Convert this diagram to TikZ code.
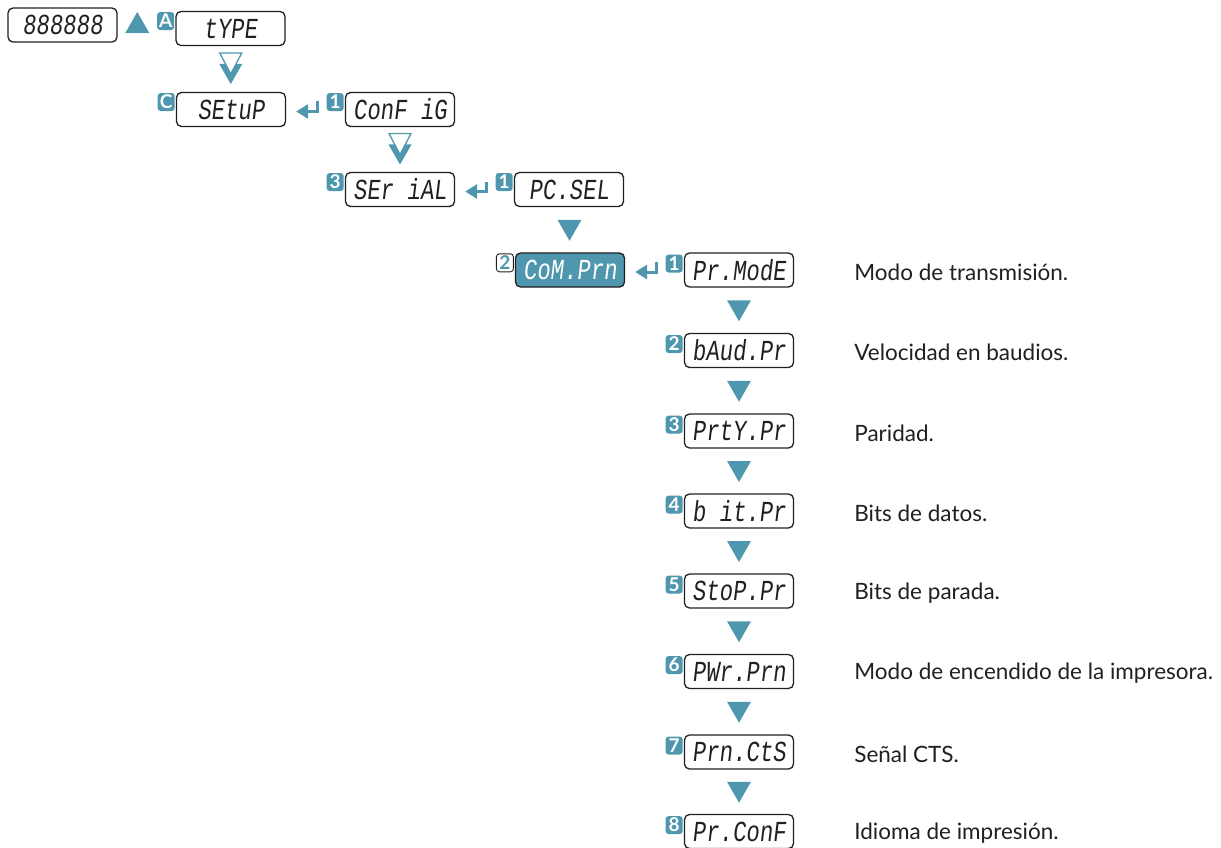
\documentclass[tikz,border=0pt]{standalone}
\usepackage{fontspec}
\setmainfont{Lato}
\newfontfamily\lcdfont[FakeSlant=0.12,FakeStretch=0.77]{Liberation Mono}
\usetikzlibrary{calc,arrows.meta}
\definecolor{teal}{HTML}{4F97AE}
\definecolor{ink}{HTML}{231F20}
\tikzset{
  lcd/.style={draw=ink, line width=1.3pt, rounded corners=5pt, minimum width=109pt,
    minimum height=34pt, inner sep=0pt, text=ink, font=\lcdfont\fontsize{29}{29}\selectfont},
  lcdon/.style={lcd, fill=teal, text=white},
  badge/.style={fill=teal, rounded corners=3pt, minimum width=17pt, minimum height=18pt,
    inner sep=0pt, text=white, font=\bfseries\fontsize{19}{19}\selectfont, anchor=north east},
  badgeout/.style={badge, fill=white, draw=ink, line width=0.9pt, text=teal},
  desc/.style={anchor=west, inner sep=0pt, text=ink, font=\fontsize{22.5}{22.5}\selectfont},
  retarrow/.style={draw=teal, line width=3pt, -{Triangle[length=12pt,width=14pt]}},
  pics/dtri/.style={code={\fill[teal] (-12,-10) -- (12,-10) -- (0,11) -- cycle;}},
  pics/utri/.style={code={\fill[teal] (-12,10) -- (12,10) -- (0,-11) -- cycle;}},
  pics/ddtri/.style={code={
    \fill[teal] (-11.5,-5) -- (11.5,-5) -- (0,15) -- cycle;
    \draw[teal, line width=1.3pt, fill=white] (-11,-16) -- (11,-16) -- (0,5) -- cycle;}},
}
\begin{document}
\begin{tikzpicture}[x=1pt,y=-1pt]
\useasboundingbox (0,0) rectangle (1221,848);
% displays
\node[lcd] (disp) at (62.5,25) {888888};
\node[lcd] (type) at (230.5,28.5) {tYPE};
\node[lcd] (setup) at (231,109.5) {SEtuP};
\node[lcd] (config) at (400,109.5) {ConF iG};
\node[lcd] (serial) at (400,189.5) {SEr iAL};
\node[lcd] (pcsel) at (569,189.5) {PC.SEL};
\node[lcdon] (conm) at (570,270) {CoM.Prn};
\node[lcd] (r1) at (739,270) {Pr.ModE};
\node[lcd] (r2) at (739,350.5) {bAud.Pr};
\node[lcd] (r3) at (739,431) {PrtY.Pr};
\node[lcd] (r4) at (739,511) {b it.Pr};
\node[lcd] (r5) at (739,591) {StoP.Pr};
\node[lcd] (r6) at (739,671.5) {PWr.Prn};
\node[lcd] (r7) at (739,752) {Prn.CtS};
\node[lcd] (r8) at (739,831.5) {Pr.ConF};
% badges
\node[badge] (bA) at ($(type.north west)+(-1,1)$) {A};
\node[badge] (bC) at ($(setup.north west)+(-1,1)$) {C};
\node[badge] (bcfg) at ($(config.north west)+(-1,1)$) {1};
\node[badge] (bser) at ($(serial.north west)+(-1,1)$) {3};
\node[badge] (bpc) at ($(pcsel.north west)+(-1,1)$) {1};
\node[badgeout] (bcon) at ($(conm.north west)+(-1,1)$) {2};
\node[badge] (b1) at ($(r1.north west)+(-1,2)$) {1};
\node[badge] (b2) at ($(r2.north west)+(-1,2)$) {2};
\node[badge] (b3) at ($(r3.north west)+(-1,2)$) {3};
\node[badge] (b4) at ($(r4.north west)+(-1,2)$) {4};
\node[badge] (b5) at ($(r5.north west)+(-1,2)$) {5};
\node[badge] (b6) at ($(r6.north west)+(-1,2)$) {6};
\node[badge] (b7) at ($(r7.north west)+(-1,2)$) {7};
\node[badge] (b8) at ($(r8.north west)+(-1,2)$) {8};
% up triangle next to display
\pic at ($(disp.east)!0.5!(bA.west)+(0,0)$) {utri};
% double triangles
\pic at ($(type.south)!0.5!(setup.north)$) {ddtri};
\pic at ($(config.south)!0.5!(serial.north)$) {ddtri};
% single triangles
\pic at ($(pcsel.south)!0.5!(conm.north)$) {dtri};
\pic at ($(r1.south)!0.5!(r2.north)$) {dtri};
\pic at ($(r2.south)!0.5!(r3.north)$) {dtri};
\pic at ($(r3.south)!0.5!(r4.north)$) {dtri};
\pic at ($(r4.south)!0.5!(r5.north)$) {dtri};
\pic at ($(r5.south)!0.5!(r6.north)$) {dtri};
\pic at ($(r6.south)!0.5!(r7.north)$) {dtri};
\pic at ($(r7.south)!0.5!(r8.north)$) {dtri};
% return arrows
\draw[retarrow] ($(config.west)+(-27,-8)$) -- ($(config.west)+(-27,2)$) -- ($(setup.east)+(10,2)$);
\draw[retarrow] ($(pcsel.west)+(-27,-8)$) -- ($(pcsel.west)+(-27,2)$) -- ($(serial.east)+(10,2)$);
\draw[retarrow] ($(r1.west)+(-27,-8)$) -- ($(r1.west)+(-27,2)$) -- ($(conm.east)+(10,2)$);
% descriptions
\node[desc] (d1) at ($(r1.east)+(60,2)$) {Modo de transmisión.};
\node[desc] (d2) at ($(r2.east)+(60,2)$) {Velocidad en baudios.};
\node[desc] (d3) at ($(r3.east)+(60,2)$) {Paridad.};
\node[desc] (d4) at ($(r4.east)+(60,2)$) {Bits de datos.};
\node[desc] (d5) at ($(r5.east)+(60,2)$) {Bits de parada.};
\node[desc] (d6) at ($(r6.east)+(60,2)$) {Modo de encendido de la impresora.};
\node[desc] (d7) at ($(r7.east)+(60,2)$) {Señal CTS.};
\node[desc] (d8) at ($(r8.east)+(60,2)$) {Idioma de impresión.};
\end{tikzpicture}
\end{document}
